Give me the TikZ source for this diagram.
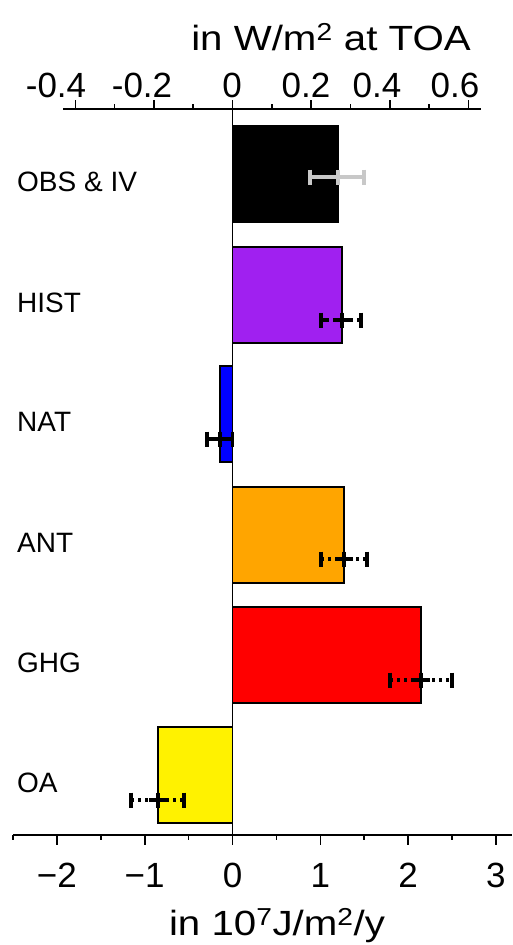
\documentclass[tikz,border=0pt]{standalone}
\usepackage{fontspec}
\setmainfont{Liberation Sans}
\usepackage{tikz}
\usetikzlibrary{positioning}

\definecolor{histpurple}{RGB}{160,32,240}
\definecolor{antorange}{RGB}{255,165,0}
\definecolor{errgray}{RGB}{200,200,200}

\begin{document}
\begin{tikzpicture}[
    x=1pt, y=-1pt,
    declare function={xv(\v)=232.5+87.8*\v;},
    axisline/.style={line width=1.8pt},
    axtick/.style={line width=1.6pt},
    barbox/.style={draw, line width=1.5pt},
    errline/.style={line width=3.6pt},
    errsolid/.style={solid},
    errdash/.style={dash pattern=on 8pt off 4pt},
    errdot/.style={dash pattern=on 3pt off 4pt},
    catlabel/.style={anchor=base west, inner sep=0pt, font=\fontsize{28}{32}\selectfont},
    ticknum/.style={anchor=base, inner sep=0pt, font=\fontsize{35}{40}\selectfont}
]
\useasboundingbox (0,0) rectangle (512,945);

% bars, labels and error bars
\foreach \name/\top/\val/\ey/\lo/\hi/\fillcol/\errcol/\pat [count=\i] in {
    OBS \& IV/126/1.20/177/0.882/1.50/black/errgray/errsolid,
    HIST/247/1.247/320/1.008/1.464/histpurple/black/errdash,
    NAT/366/-0.142/439/-0.29/0.0/blue/black/errsolid,
    ANT/487/1.27/559/1.008/1.53/antorange/black/errdot,
    GHG/607/2.147/680/1.794/2.50/red/black/errdot,
    OA/727/-0.849/800/-1.156/-0.552/yellow/black/errdot}{
  \draw[barbox, fill=\fillcol] ({xv(0)},\top) rectangle ({xv(\val)},\top+96);
  \node[catlabel] (cat\i) at (17,\top+65) {\name};
  \draw[errline, color=\errcol, \pat] ({xv(\lo)},\ey) -- ({xv(\hi)},\ey);
  \draw[errline, color=\errcol] ({xv(\val)-9},\ey) -- ({xv(\val)+9},\ey);
  \foreach \c in {\lo,\val,\hi}
    \draw[errline, color=\errcol] ({xv(\c)},\ey-7.5) -- ({xv(\c)},\ey+7.5);
}

% axes
\draw[axisline] (63,109) -- (481,109);
\draw[axisline] (13,835) -- (512,835);
\draw[axisline] (232.5,109) -- (232.5,835);

% top axis, W/m2
\foreach \k in {-4,-2,...,6}
  \draw[axtick] ({232.5+39.3*\k},109) -- ++(0,-9);
\foreach \k in {-3,-1,...,5}
  \draw[axtick] ({232.5+39.3*\k},109) -- ++(0,-5);
\foreach \xpos/\txt [count=\i] in {56/-0.4,142/-0.2,232/0,306/0.2,377/0.4,455/0.6}
  \node[ticknum] (top\i) at (\xpos,97) {\txt};
\node[ticknum] (toptitle) at (331,50) {\scalebox{1.15}[1]{in W/m\textsuperscript{2} at TOA}};

% bottom axis, 10^7 J/m2/y
\foreach \k in {-2,...,3}
  \draw[axtick] ({xv(\k)},835) -- ++(0,10);
\foreach \k in {-5,-3,...,5}
  \draw[axtick] ({232.5+43.9*\k},835) -- ++(0,5);
\foreach \k/\txt [count=\i] in {-2/−2,-1/−1,0/0,1/1,2/2,3/3}
  \node[ticknum] (bot\i) at ({xv(\k)},887) {\txt};
\node[ticknum] (bottitle) at (277,935) {\scalebox{1.15}[1]{in 10\textsuperscript{7}J/m\textsuperscript{2}/y}};

\end{tikzpicture}
\end{document}
